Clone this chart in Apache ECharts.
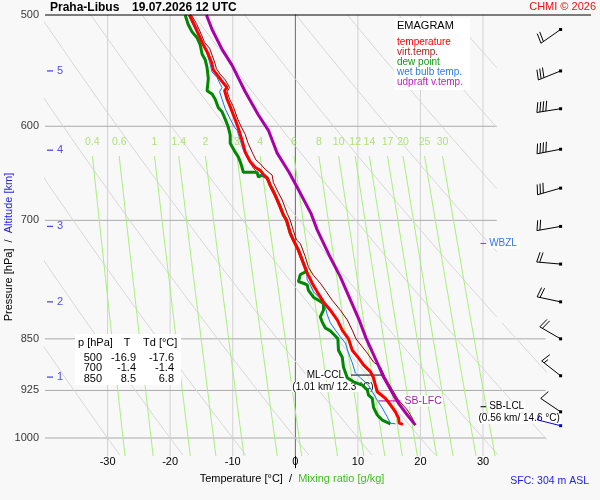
<!DOCTYPE html>
<html><head><meta charset="utf-8">
<script src="https://cdn.jsdelivr.net/npm/echarts@6/dist/echarts.min.js"></script>
<style>html,body{margin:0;padding:0;background:#f8f8f8}#c{width:600px;height:500px}</style>
</head><body><div id="c"></div>
<script>
// ================= DATA =================
const isotherms = [-30, -20, -10, 0, 10, 20, 30];
const isobars = [600, 700, 850, 925, 1000];
const pressureLabels = [500, 600, 700, 850, 925, 1000];
const tempTicks = [-30, -20, -10, 0, 10, 20, 30];
const mixingRatios = [0.4, 0.6, 1, 1.4, 2, 3, 4, 6, 8, 10, 12, 14, 17, 20, 25, 30];
const dryAdiabatThetas = [-30, -20, -10, 0, 10, 20, 30, 40, 50, 60, 70, 80, 90];
const altitudeKm = [1, 2, 3, 4, 5];
const altitudeP = [905, 800, 707, 624, 548];

// profiles as [T (°C), p (hPa)]
const temperature = [[-16.9,500],[-15.8,512],[-14.9,523],[-14.1,531],[-13.4,540],[-13.1,547],[-12.3,553],[-11.5,559],[-10.9,563],[-11.3,566],[-10.9,574],[-10.4,581],[-9.7,592],[-9.1,602],[-8.5,614],[-8.0,626],[-7.2,636],[-6.4,642],[-5.6,645],[-5.0,650],[-4.5,653],[-4.0,661],[-3.2,672],[-2.4,685],[-1.9,694],[-1.4,700],[-0.8,715],[-0.3,723],[0.5,735],[1.3,751],[1.9,763],[2.7,776],[3.5,787],[4.5,800],[5.6,811],[6.7,824],[7.5,838],[8.5,850],[9.1,866],[10.1,877],[10.9,887],[12.0,897],[12.5,906],[12.8,917],[13.1,927],[14.4,937],[15.2,947],[16.0,958],[16.5,968],[16.6,976],[17.2,978]];
const virtualTemp = [[-16.6,500],[-15.8,507],[-15.2,514],[-14.5,523],[-13.7,528],[-13.3,534],[-12.9,540],[-12.6,546],[-12.0,551],[-11.2,556],[-10.5,563],[-10.9,567],[-10.5,574],[-9.9,581],[-9.2,593],[-8.6,601],[-8.0,608],[-7.6,616],[-6.9,626],[-6.3,634],[-5.6,638],[-4.8,644],[-3.7,650],[-3.5,658],[-2.7,669],[-2.1,677],[-1.3,692],[-0.8,700],[-0.3,712],[0.2,723],[0.8,727],[1.6,743],[2.1,756],[2.9,766],[4.0,776],[4.8,785],[5.9,798],[7.2,811],[8.3,824],[9.1,838],[9.7,850],[10.5,859],[11.5,870],[12.5,883],[13.6,890],[14.4,906],[14.9,914],[15.5,924],[16.5,940],[17.9,955],[18.7,968],[19.2,979]];
const dewPoint = [[-17.6,500],[-17.1,508],[-16.5,514],[-15.7,519],[-15.2,525],[-14.9,533],[-14.4,538],[-14.1,545],[-13.9,555],[-14.1,566],[-13.3,569],[-12.8,574],[-12.3,582],[-11.7,586],[-11.2,593],[-10.7,601],[-10.4,609],[-10.4,617],[-9.6,626],[-9.1,631],[-8.8,636],[-8.5,642],[-8.3,647],[-6.1,647],[-5.9,652],[-5.3,650],[-5.0,652],[-4.5,653],[-4.0,661],[-3.2,672],[-2.4,685],[-1.9,694],[-1.4,700],[-0.8,715],[-0.3,723],[0.5,735],[1.3,751],[1.8,761],[0.8,765],[0.5,774],[1.3,776],[1.9,778],[2.1,785],[2.9,794],[3.7,798],[4.5,802],[4.5,811],[4.0,820],[4.3,827],[4.8,835],[5.6,839],[6.4,846],[6.8,850],[6.9,866],[7.5,876],[7.7,890],[8.3,906],[9.3,912],[10.7,917],[11.5,924],[11.7,932],[12.3,937],[12.5,951],[13.1,963],[13.9,971],[15.2,977]];
const wetBulb = [[-17.1,500],[-16.0,512],[-15.0,523],[-14.2,531],[-13.7,540],[-13.3,549],[-12.5,554],[-12.0,560],[-11.7,563],[-12.1,567],[-11.7,574],[-11.2,583],[-10.4,593],[-9.7,601],[-9.3,604],[-8.8,614],[-8.3,624],[-7.7,632],[-7.2,637],[-6.7,643],[-5.9,648],[-5.0,652],[-4.5,653],[-4.0,661],[-3.2,672],[-2.4,685],[-1.9,694],[-1.4,700],[-0.8,715],[-0.3,723],[0.5,735],[1.3,751],[1.8,763],[1.9,772],[2.4,778],[2.9,787],[4.0,796],[4.8,807],[5.1,817],[5.6,828],[6.4,838],[7.2,847],[8.0,856],[8.5,870],[9.1,884],[9.6,899],[10.4,906],[11.7,917],[12.3,927],[13.1,940],[13.9,952],[14.7,966],[15.2,976],[16.0,977]];
const updraftVirtTemp = [[19.2,979],[17.9,963],[16.6,946],[16.0,937],[14.1,905],[12.9,880],[11.3,849],[10.2,824],[7.2,768],[5.6,744],[3.5,711],[2.5,692],[0.3,663],[-1.0,647],[-2.9,627],[-4.3,604],[-5.9,589],[-8.0,567],[-10.1,543],[-11.7,529],[-13.3,512],[-14.2,500]];

// wind barbs
const windP     = [512, 548, 583, 623, 664, 707, 752, 800, 850, 903, 958, 980];
const windDir   = [235, 248, 261, 259, 254, 260, 275, 282, 300, 308, 304, 284];
const windSpeed = [20, 30, 40, 40, 30, 20, 20, 20, 20, 15, 10, 5];

// table
const tableP  = [500, 700, 850];
const tableT  = [-16.9, -1.4, 8.5];
const tableTd = [-17.6, -1.4, 6.8];

// levels / annotations
const cclP = 902, cclLine = [8.9, 13.9], cclHeightKm = 1.01, cclTemp = 12.3;
const lfcP = 941, lfcLine = [13.3, 16.8];
const lclP = 950, lclHeightKm = 0.56, lclTemp = 14.6;
const wbzlP = 727;
const markerT = [29.6, 30.5];
const sfcHeight = 304;

// ================= CHART =================
const FONT = "'Liberation Sans', Arial, sans-serif";
const P_SPLIT = 828, T_UPPER = 32.2;
const chart = echarts.init(document.getElementById('c'), null, {renderer: 'canvas'});
const series = [];
function addLine(data, color, width, z) {
  series.push({type: 'line', data: data, symbol: 'none', showSymbol: false, silent: true,
    animation: false, clip: true, z: z, lineStyle: {color: color, width: width}, emphasis: {disabled: true}});
}
function tdFromW(w, p) { const e = w * p / (622 + w); const a = Math.log(e / 6.112); return 243.5 * a / (17.67 - a); }
function adiabatT(th, p) { return (th + 273.15) * Math.pow(p / 1000, 0.2857) - 273.15; }

// isotherms
isotherms.forEach(t => addLine([[t, 500], [t, 1030]], t === 0 ? '#999999' : '#d2d2d2', 1, 1));
// isobars
isobars.forEach(p => addLine([[-40, p], [p < P_SPLIT ? T_UPPER : 40, p]], '#aaaaaa', 1, 1));
// dry adiabats
dryAdiabatThetas.forEach(th => {
  const up = [];
  for (let p = 500; p <= P_SPLIT; p += 4) { const T = adiabatT(th, p); if (T <= T_UPPER) up.push([T, p]); }
  const pc = 1000 * Math.pow((T_UPPER + 273.15) / (th + 273.15), 1 / 0.2857);
  if (pc > 500 && pc < P_SPLIT) up.push([T_UPPER, pc]);
  if (up.length > 1) addLine(up, '#d6d6d6', 1, 1);
  const low = [];
  for (let p = P_SPLIT; p <= 1030; p += 4) low.push([adiabatT(th, p), p]);
  addLine(low, '#d6d6d6', 1, 1);
});
// mixing ratio lines
mixingRatios.forEach(w => {
  const pts = [];
  for (let p = 630; p <= 1030; p += 20) pts.push([tdFromW(w, p), p]);
  addLine(pts, '#a8f07c', 1, 1);
});
series.push({type: 'scatter', silent: true, animation: false, clip: false, z: 2, symbolSize: 0,
  data: mixingRatios.map(w => [tdFromW(w, 630), 616, w]),
  label: {show: true, position: 'inside', formatter: p => String(p.value[2]), color: '#99dd55', fontSize: 10.5, fontFamily: FONT}});
// pressure labels
series.push({type: 'scatter', silent: true, animation: false, clip: false, z: 2, symbolSize: 0,
  data: pressureLabels.map(p => [-40, p]),
  label: {show: true, position: 'left', distance: 6, formatter: p => String(p.value[1]), color: '#000', fontSize: 11, fontFamily: FONT}});
// altitude ticks
series.push({type: 'scatter', silent: true, animation: false, clip: false, z: 2, symbol: 'rect', symbolSize: [6, 1.3], symbolOffset: [5, 0],
  itemStyle: {color: '#2020ee'},
  data: altitudeP.map((p, i) => [-40, p, altitudeKm[i]]),
  label: {show: true, position: 'right', distance: 4, formatter: p => String(p.value[2]), color: '#2020ee', fontSize: 11, fontFamily: FONT}});

// annotation lines
addLine(cclLine.map(t => [t, cclP]), '#000000', 1, 9);
addLine(lfcLine.map(t => [t, lfcP]), '#aa00aa', 1, 9);
addLine(markerT.map(t => [t, lclP]), '#000000', 1, 9);
addLine(markerT.map(t => [t, wbzlP]), '#2266ee', 1, 9);

// profiles
addLine(dewPoint, '#008800', 3, 10);
addLine(wetBulb, '#1a75e8', 1, 11);
addLine(temperature, '#ff0000', 3, 12);
addLine(virtualTemp, '#990000', 1, 13);
addLine(updraftVirtTemp, '#aa00aa', 3, 14);

// wind barbs
series.push({type: 'custom', silent: true, animation: false, clip: false, z: 15,
  data: windP.map((p, i) => [p, windDir[i], windSpeed[i]]),
  encode: {y: 0},
  renderItem: function (params, api) {
    const p = api.value(0), dir = api.value(1), spd = api.value(2);
    const base = api.coord([40, p]);
    const sx = base[0] + 15, sy = base[1];
    const rad = dir * Math.PI / 180;
    const ux = Math.sin(rad), uy = -Math.cos(rad);
    const L = 24, F = 10, gap = 3;
    const ex = sx + ux * L, ey = sy + uy * L;
    const px = -uy, py = ux;
    const color = params.dataIndex === windP.length - 1 ? '#0000ee' : '#000000';
    const st = {stroke: color, lineWidth: 1, fill: null};
    const ch = [
      {type: 'line', shape: {x1: sx, y1: sy, x2: ex, y2: ey}, style: st},
      {type: 'rect', shape: {x: sx - 1.5, y: sy - 1.5, width: 3, height: 3}, style: {fill: color}}
    ];
    let rem = spd, k = 0;
    while (rem >= 10) {
      const bx = ex - ux * gap * k, by = ey - uy * gap * k;
      ch.push({type: 'line', shape: {x1: bx, y1: by, x2: bx + px * F - ux * 2.5, y2: by + py * F - uy * 2.5}, style: st});
      rem -= 10; k++;
    }
    if (rem >= 5) {
      const bx = ex - ux * gap * k, by = ey - uy * gap * k;
      ch.push({type: 'line', shape: {x1: bx, y1: by, x2: bx + px * F / 2 - ux * 1.2, y2: by + py * F / 2 - uy * 1.2}, style: st});
    }
    return {type: 'group', children: ch};
  }
});

const option = {
  backgroundColor: '#f8f8f8',
  animation: false,
  grid: {left: 45, top: 15, width: 500.6, height: 452.8, containLabel: false},
  xAxis: {type: 'value', min: -40, max: 40, interval: 10,
    axisLine: {show: false}, axisTick: {show: false}, splitLine: {show: false},
    axisLabel: {margin: -11, fontSize: 11, color: '#000', fontFamily: FONT,
      formatter: v => tempTicks.indexOf(v) >= 0 ? String(v) : ''}},
  yAxis: {type: 'log', logBase: 10, min: 500, max: 1050, inverse: true,
    axisLine: {show: true, lineStyle: {color: '#000', width: 1}}, axisTick: {show: false},
    axisLabel: {show: false}, splitLine: {show: false}, minorSplitLine: {show: false}},
  series: series
};
chart.setOption(option);

// ---------- text / annotation graphics ----------
const px = (t, p) => chart.convertToPixel({gridIndex: 0}, [t, p]);
function txt(x, y, text, opt) {
  opt = opt || {};
  return {type: 'text', x: x, y: y, z: opt.z || 20, rotation: opt.rotation || 0,
    style: Object.assign({text: text, fill: opt.fill || '#000', font: (opt.weight || 'normal') + ' ' + (opt.size || 11) + 'px ' + FONT,
      textAlign: opt.align || 'left', textVerticalAlign: 'middle'}, opt.extra || {})};
}
const g = [];
// frame line at top
g.push({type: 'line', z: 20, shape: {x1: 45, y1: 15, x2: 591, y2: 15}, style: {stroke: '#000', lineWidth: 1}});
// title
g.push(txt(50, 8, 'Praha-Libus', {weight: 'bold', size: 12}));
g.push(txt(132, 8, '19.07.2026 12 UTC', {weight: 'bold', size: 12}));
g.push(txt(596, 7, 'CHMI \u00a9 2026', {fill: '#ee1111', size: 11, align: 'right'}));
// legend box
g.push({type: 'rect', z: 3, shape: {x: 394, y: 18, width: 76, height: 72}, style: {fill: '#ffffff'}});
g.push(txt(397, 26, 'EMAGRAM', {size: 11, z: 4}));
const legendItems = [['temperature', '#ff0000'], ['virt.temp.', '#aa2222'], ['dew point', '#119911'], ['wet bulb temp.', '#3377ee'], ['udpraft v.temp.', '#bb22bb']];
legendItems.forEach((it, i) => g.push(txt(397, 42 + i * 10, it[0], {fill: it[1], size: 10, z: 4})));
// table
g.push({type: 'rect', z: 3, shape: {x: 75, y: 334, width: 106, height: 51}, style: {fill: '#ffffff'}});
g.push(txt(78, 343, 'p [hPa]', {z: 4}));
g.push(txt(127, 343, 'T', {z: 4, align: 'center'}));
g.push(txt(143, 343, 'Td [\u00b0C]', {z: 4}));
tableP.forEach((p, i) => {
  const y = 358 + i * 10.3;
  g.push(txt(102, y, String(p), {z: 4, align: 'right'}));
  g.push(txt(136, y, tableT[i].toFixed(1), {z: 4, align: 'right'}));
  g.push(txt(174, y, tableTd[i].toFixed(1), {z: 4, align: 'right'}));
});
// axis titles
g.push({type: 'text', x: 9, y: 247, rotation: Math.PI / 2, z: 20,
  style: {text: '{a|Pressure [hPa]}{a|  /  }{b|Altitude [km]}', font: '11px ' + FONT, textAlign: 'center', textVerticalAlign: 'middle',
    rich: {a: {fill: '#000', font: '11px ' + FONT}, b: {fill: '#2020ee', font: '11px ' + FONT}}}});
g.push({type: 'text', x: 292, y: 479, z: 20,
  style: {text: '{a|Temperature [\u00b0C]}{a|  /  }{b|Mixing ratio [g/kg]}', font: '11px ' + FONT, textAlign: 'center', textVerticalAlign: 'middle',
    rich: {a: {fill: '#000', font: '11px ' + FONT}, b: {fill: '#44bb22', font: '11px ' + FONT}}}});
g.push(txt(589, 481, 'SFC: ' + sfcHeight + ' m ASL', {fill: '#2222ee', size: 10.5, align: 'right'}));
// annotations
const ccl0 = px(cclLine[0], cclP);
g.push(txt(ccl0[0] - 6, ccl0[1], 'ML-CCL', {size: 10, align: 'right', z: 8, extra: {backgroundColor: '#ffffff', padding: [0, 1]}}));
g.push(txt(ccl0[0] - 18, ccl0[1] + 12, '(' + cclHeightKm.toFixed(2) + ' km/ ' + cclTemp.toFixed(1) + ' \u00b0C)', {size: 10, align: 'center', z: 8, extra: {backgroundColor: '#ffffff', padding: [0, 1]}}));
const lfc1 = px(lfcLine[1], lfcP);
g.push(txt(lfc1[0] + 3, lfc1[1], 'SB-LFC', {size: 10.5, fill: '#aa22aa', z: 8, extra: {backgroundColor: '#ffffff', padding: [0, 1]}}));
const lcl1 = px(markerT[1], lclP);
g.push(txt(lcl1[0] + 2, lcl1[1], 'SB-LCL', {size: 10, z: 8, extra: {backgroundColor: '#ffffff', padding: [0, 1]}}));
g.push(txt(lcl1[0] + 33, lcl1[1] + 12, '(' + lclHeightKm.toFixed(2) + ' km/ ' + lclTemp.toFixed(1) + ' \u00b0C)', {size: 10, align: 'center', z: 8, extra: {backgroundColor: '#ffffff', padding: [0, 1]}}));
const wb1 = px(markerT[1], wbzlP);
g.push(txt(wb1[0] + 2, wb1[1], 'WBZL', {size: 10, fill: '#3377ee', z: 8, extra: {backgroundColor: '#ffffff', padding: [0, 3, 0, 1]}}));

chart.setOption({graphic: {elements: g}});
</script>
</body></html>
